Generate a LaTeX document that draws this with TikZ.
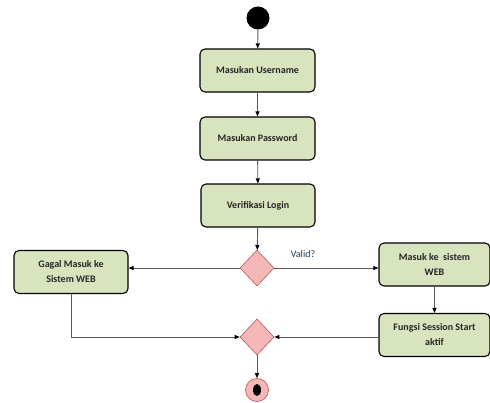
\documentclass[tikz,border=0pt]{standalone}
\usepackage{fontspec}
\setmainfont{Carlito}
\usetikzlibrary{positioning,shapes.geometric}
\usetikzlibrary{arrows.meta}
\definecolor{actfill}{HTML}{D7E4BD}
\definecolor{decfill}{HTML}{F5B8B8}
\definecolor{decline}{HTML}{C0504D}
\definecolor{linecol}{HTML}{595959}
\definecolor{labcol}{HTML}{1F3D5A}

\begin{document}
\begin{tikzpicture}[x=1pt,y=-1pt,
	act/.style={draw=black, line width=1.1pt, fill=actfill, rounded corners=5pt, minimum width=114pt, minimum height=43pt, align=center, font=\fontsize{10}{15}\selectfont\bfseries, text=black!85},
	decision/.style={diamond, draw=decline, line width=0.6pt, fill=decfill, minimum width=34pt, minimum height=36pt, inner sep=0pt},
	flow/.style={draw=linecol, line width=0.9pt, -{Triangle[length=5pt,width=4pt,fill=black,color=black]}}]
	%% fixes the size of the page
	\useasboundingbox (0,0) rectangle (490,403);
	%% start and end points
	\node[circle, fill=black, minimum size=23pt, inner sep=0pt] (start) at (258,18) {};
	\node[circle, draw=decline, fill=decfill, line width=0.6pt, minimum size=23pt, inner sep=0pt] (stop) at (257,390) {};
	\fill[black] (stop.center) ellipse (4pt and 6pt);
	%% the activities in the middle
	\node[act, minimum width=115pt] (user) at (257.5,70.5) {Masukan Username};
	\node[act, minimum width=115pt] (pass) at (257.5,138.5) {Masukan Password};
	\node[act] (verif) at (258,205.5) {Verifikasi Login};
	%% the two decisions
	\node[decision] (valid) at (257,268) {};
	\node[decision] (merge) at (257,337) {};
	\node[color=labcol, font=\fontsize{10}{12}\selectfont] (validlab) at (303,254) {Valid?};
	%% left and right branches
	\node[act] (gagal) at (71,272) {Gagal Masuk ke\\Sistem WEB};
	\node[act, minimum width=111pt] (masuk) at (434.5,264.5) {Masuk ke\ \ sistem\\WEB};
	\node[act, minimum width=111pt] (sesi) at (434.5,335) {Fungsi Session Start\\aktif};
	%% connectors
	\draw[flow] (start) -- (user);
	\draw[flow] (user) -- (pass);
	\draw[flow] (pass) -- (verif);
	\draw[flow] (verif) -- (valid);
	\draw[flow] (valid.west) -- (valid.west -| gagal.east);
	\draw[flow] (valid.east) -- (valid.east -| masuk.west);
	\draw[flow] (masuk) -- (sesi);
	\draw[flow] (sesi.west |- merge.east) -- (merge.east);
	\draw[flow] (gagal.south) |- (merge.west);
	\draw[flow] (merge) -- (stop);
\end{tikzpicture}
\end{document}
